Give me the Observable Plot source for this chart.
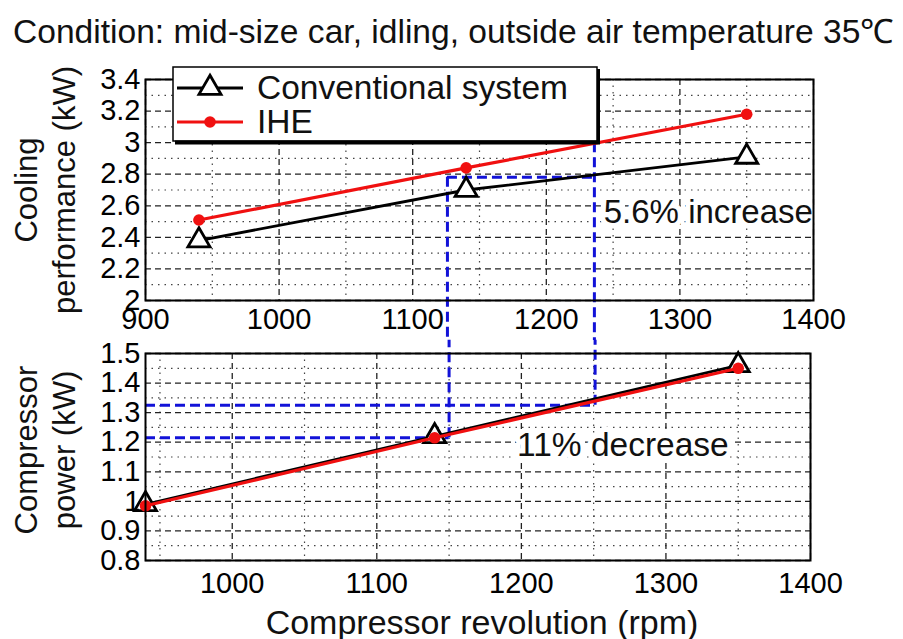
<!DOCTYPE html>
<html>
<head>
<meta charset="utf-8">
<script src="https://cdn.jsdelivr.net/npm/d3@7"></script>
<script src="https://cdn.jsdelivr.net/npm/@observablehq/plot@0.6"></script>
<style>
  body { margin: 0; background: white; }
  #wrap { position: relative; width: 903px; height: 639px; overflow: hidden; background: white;
          font-family: "Liberation Sans", Arial, sans-serif; }
  #wrap > * { position: absolute; }
</style>
</head>
<body>
<div id="wrap"></div>
<script>
// ---- data ----
const rpm = [940, 1140, 1350];
const coolConv = [2.38, 2.70, 2.91];
const coolIHE = [2.51, 2.84, 3.18];
const powerConv = [0.99, 1.22, 1.46];
const powerIHE = [0.985, 1.215, 1.45];

const seriesNames = ["Conventional system", "IHE"];
const titleText = "Condition: mid-size car, idling, outside air temperature 35\u2103";
const xLabel = "Compressor revolution (rpm)";
const yLabelTop = ["Cooling", "performance (kW)"];
const yLabelBottom = ["Compressor", "power (kW)"];

const xTicksTop = [900, 1000, 1100, 1200, 1300, 1400];
const xMinorTop = [950, 1050, 1150, 1250, 1350];
const yTicksTop = [2, 2.2, 2.4, 2.6, 2.8, 3, 3.2, 3.4];
const yMinorTop = [2.1, 2.3, 2.5, 2.7, 2.9, 3.1, 3.3];

const xTicksBottom = [1000, 1100, 1200, 1300, 1400];
const xMinorBottom = [950, 1050, 1150, 1250, 1350];
const yTicksBottom = [0.8, 0.9, 1, 1.1, 1.2, 1.3, 1.4, 1.5];
const yMinorBottom = [0.85, 0.95, 1.05, 1.15, 1.25, 1.35, 1.45];

// guide lines (blue dashed) in data units
const guideTopH = [{y: 2.78, x1: 1126, x2: 1236}];
const guideTopV = [{x: 1126, y1: 2.78, y2: 1.6}, {x: 1236, y1: 3.0, y2: 1.6}];
const guideBotH = [{y: 1.325, x1: 940, x2: 1251}, {y: 1.215, x1: 940, x2: 1150}];
const guideBotV = [{x: 1150, y1: 1.215, y2: 1.545}, {x: 1251, y1: 1.325, y2: 1.545}];

const notesTop = [{x: 1243, y: 2.56, text: "5.6% increase"}];
const notesBottom = [{x: 1197, y: 1.19, text: "11% decrease"}];

// ---- styles ----
const FONT = "'Liberation Sans', Arial, sans-serif";
const RED = "#f01010";
const BLUE = "#1212d8";

const coolC = rpm.map((x, i) => ({x, y: coolConv[i]}));
const coolI = rpm.map((x, i) => ({x, y: coolIHE[i]}));
const powC = rpm.map((x, i) => ({x, y: powerConv[i]}));
const powI = rpm.map((x, i) => ({x, y: powerIHE[i]}));

function gridMarks(xMaj, xMin, yMaj, yMin) {
  return [
    Plot.ruleX(xMin, {stroke: "#444", strokeWidth: 1.2, strokeDasharray: "1.5,5"}),
    Plot.ruleY(yMin, {stroke: "#444", strokeWidth: 1.2, strokeDasharray: "1.5,5"}),
    Plot.ruleX(xMaj, {stroke: "#222", strokeWidth: 1.3, strokeDasharray: "6,4"}),
    Plot.ruleY(yMaj, {stroke: "#222", strokeWidth: 1.3, strokeDasharray: "6,4"})
  ];
}

function seriesMarks(c, i) {
  return [
    Plot.line(c, {x: "x", y: "y", stroke: "black", strokeWidth: 2.8}),
    Plot.dot(c, {x: "x", y: "y", symbol: "triangle", r: 8.2, fill: "white", stroke: "black", strokeWidth: 2.8}),
    Plot.line(i, {x: "x", y: "y", stroke: RED, strokeWidth: 3.2}),
    Plot.dot(i, {x: "x", y: "y", r: 5.8, fill: RED})
  ];
}

const topPlot = Plot.plot({
  width: 903, height: 290,
  marginTop: 29, marginBottom: 40, marginLeft: 145, marginRight: 90,
  style: {fontSize: "29px", fontFamily: FONT, background: "transparent", overflow: "hidden", color: "black"},
  x: {domain: [900, 1400]},
  y: {domain: [2, 3.4]},
  marks: [
    ...gridMarks(xTicksTop, xMinorTop, yTicksTop, yMinorTop),
    Plot.text(notesTop, {x: "x", y: "y", text: "text", textAnchor: "start", fontSize: 33, fill: "#111",
      stroke: "white", strokeWidth: 10, fontFamily: FONT}),
    Plot.ruleY(guideTopH, {y: "y", x1: "x1", x2: "x2", stroke: BLUE, strokeWidth: 3, strokeDasharray: "10,5"}),
    Plot.ruleX(guideTopV, {x: "x", y1: "y1", y2: "y2", stroke: BLUE, strokeWidth: 3, strokeDasharray: "10,5"}),
    ...seriesMarks(coolC, coolI),
    Plot.frame({stroke: "black", strokeWidth: 2}),
    Plot.axisX(xTicksTop, {tickSize: 0, tickPadding: 8, tickFormat: d => String(d), label: null, fontSize: 29}),
    Plot.axisY(yTicksTop, {tickSize: 0, tickPadding: 5, tickFormat: d => String(d), label: null, fontSize: 29})
  ]
});
topPlot.style.top = "50px"; topPlot.style.left = "0px";

const bottomPlot = Plot.plot({
  width: 903, height: 299,
  marginTop: 13, marginBottom: 79, marginLeft: 145, marginRight: 93,
  style: {fontSize: "29px", fontFamily: FONT, background: "transparent", overflow: "visible", color: "black"},
  x: {domain: [940, 1400]},
  y: {domain: [0.8, 1.5]},
  marks: [
    ...gridMarks(xTicksBottom, xMinorBottom, yTicksBottom, yMinorBottom),
    Plot.text(notesBottom, {x: "x", y: "y", text: "text", textAnchor: "start", fontSize: 33.5, fill: "#111",
      stroke: "white", strokeWidth: 10, fontFamily: FONT}),
    Plot.ruleY(guideBotH, {y: "y", x1: "x1", x2: "x2", stroke: BLUE, strokeWidth: 3, strokeDasharray: "10,5"}),
    Plot.ruleX(guideBotV, {x: "x", y1: "y1", y2: "y2", stroke: BLUE, strokeWidth: 3, strokeDasharray: "10,5"}),
    ...seriesMarks(powC, powI),
    Plot.frame({stroke: "black", strokeWidth: 2}),
    Plot.axisX(xTicksBottom, {tickSize: 0, tickPadding: 12, tickFormat: d => String(d), label: null, fontSize: 29}),
    Plot.axisY(yTicksBottom, {tickSize: 0, tickPadding: 5, tickFormat: d => String(d), label: null, fontSize: 29})
  ]
});
bottomPlot.style.top = "340px"; bottomPlot.style.left = "0px";

const wrap = document.getElementById("wrap");
wrap.appendChild(topPlot);
wrap.appendChild(bottomPlot);

// ---- overlay: title, axis titles, legend ----
const ov = d3.create("svg").attr("width", 903).attr("height", 639)
  .style("left", "0px").style("top", "0px").style("pointer-events", "none")
  .attr("font-family", FONT).attr("fill", "#111");

ov.append("text").attr("x", 13).attr("y", 43).attr("font-size", 33.6).text(titleText);
ov.append("text").attr("x", 482).attr("y", 634).attr("font-size", 34).attr("text-anchor", "middle").text(xLabel);

function yTitle(lines, cy) {
  const xs = [37, 75];
  lines.forEach((t, k) => {
    ov.append("text").attr("transform", `translate(${xs[k]},${cy}) rotate(-90)`)
      .attr("text-anchor", "middle").attr("font-size", 31).text(t);
  });
}
yTitle(yLabelTop, 190);
yTitle(yLabelBottom, 450);

// legend
const lg = ov.append("g");
lg.append("rect").attr("x", 173).attr("y", 67).attr("width", 424).attr("height", 74)
  .attr("fill", "white").attr("stroke", "black").attr("stroke-width", 1.5);
lg.append("line").attr("x1", 175).attr("x2", 600).attr("y1", 142.5).attr("y2", 142.5).attr("stroke", "black").attr("stroke-width", 4);
lg.append("line").attr("x1", 598.5).attr("x2", 598.5).attr("y1", 69).attr("y2", 144).attr("stroke", "black").attr("stroke-width", 3);
lg.append("line").attr("x1", 177).attr("x2", 243).attr("y1", 88).attr("y2", 88).attr("stroke", "black").attr("stroke-width", 2.8);
lg.append("path").attr("d", d3.symbol(d3.symbolTriangle, Math.PI * 8.2 * 8.2)()).attr("transform", "translate(210,88)")
  .attr("fill", "white").attr("stroke", "black").attr("stroke-width", 2.8);
lg.append("line").attr("x1", 177).attr("x2", 243).attr("y1", 122).attr("y2", 122).attr("stroke", RED).attr("stroke-width", 3.2);
lg.append("circle").attr("cx", 210).attr("cy", 122).attr("r", 5.8).attr("fill", RED);
lg.append("text").attr("x", 257).attr("y", 99).attr("font-size", 33.5).text(seriesNames[0]);
lg.append("text").attr("x", 257).attr("y", 133).attr("font-size", 33.5).text(seriesNames[1]);

wrap.appendChild(ov.node());
</script>
</body>
</html>
